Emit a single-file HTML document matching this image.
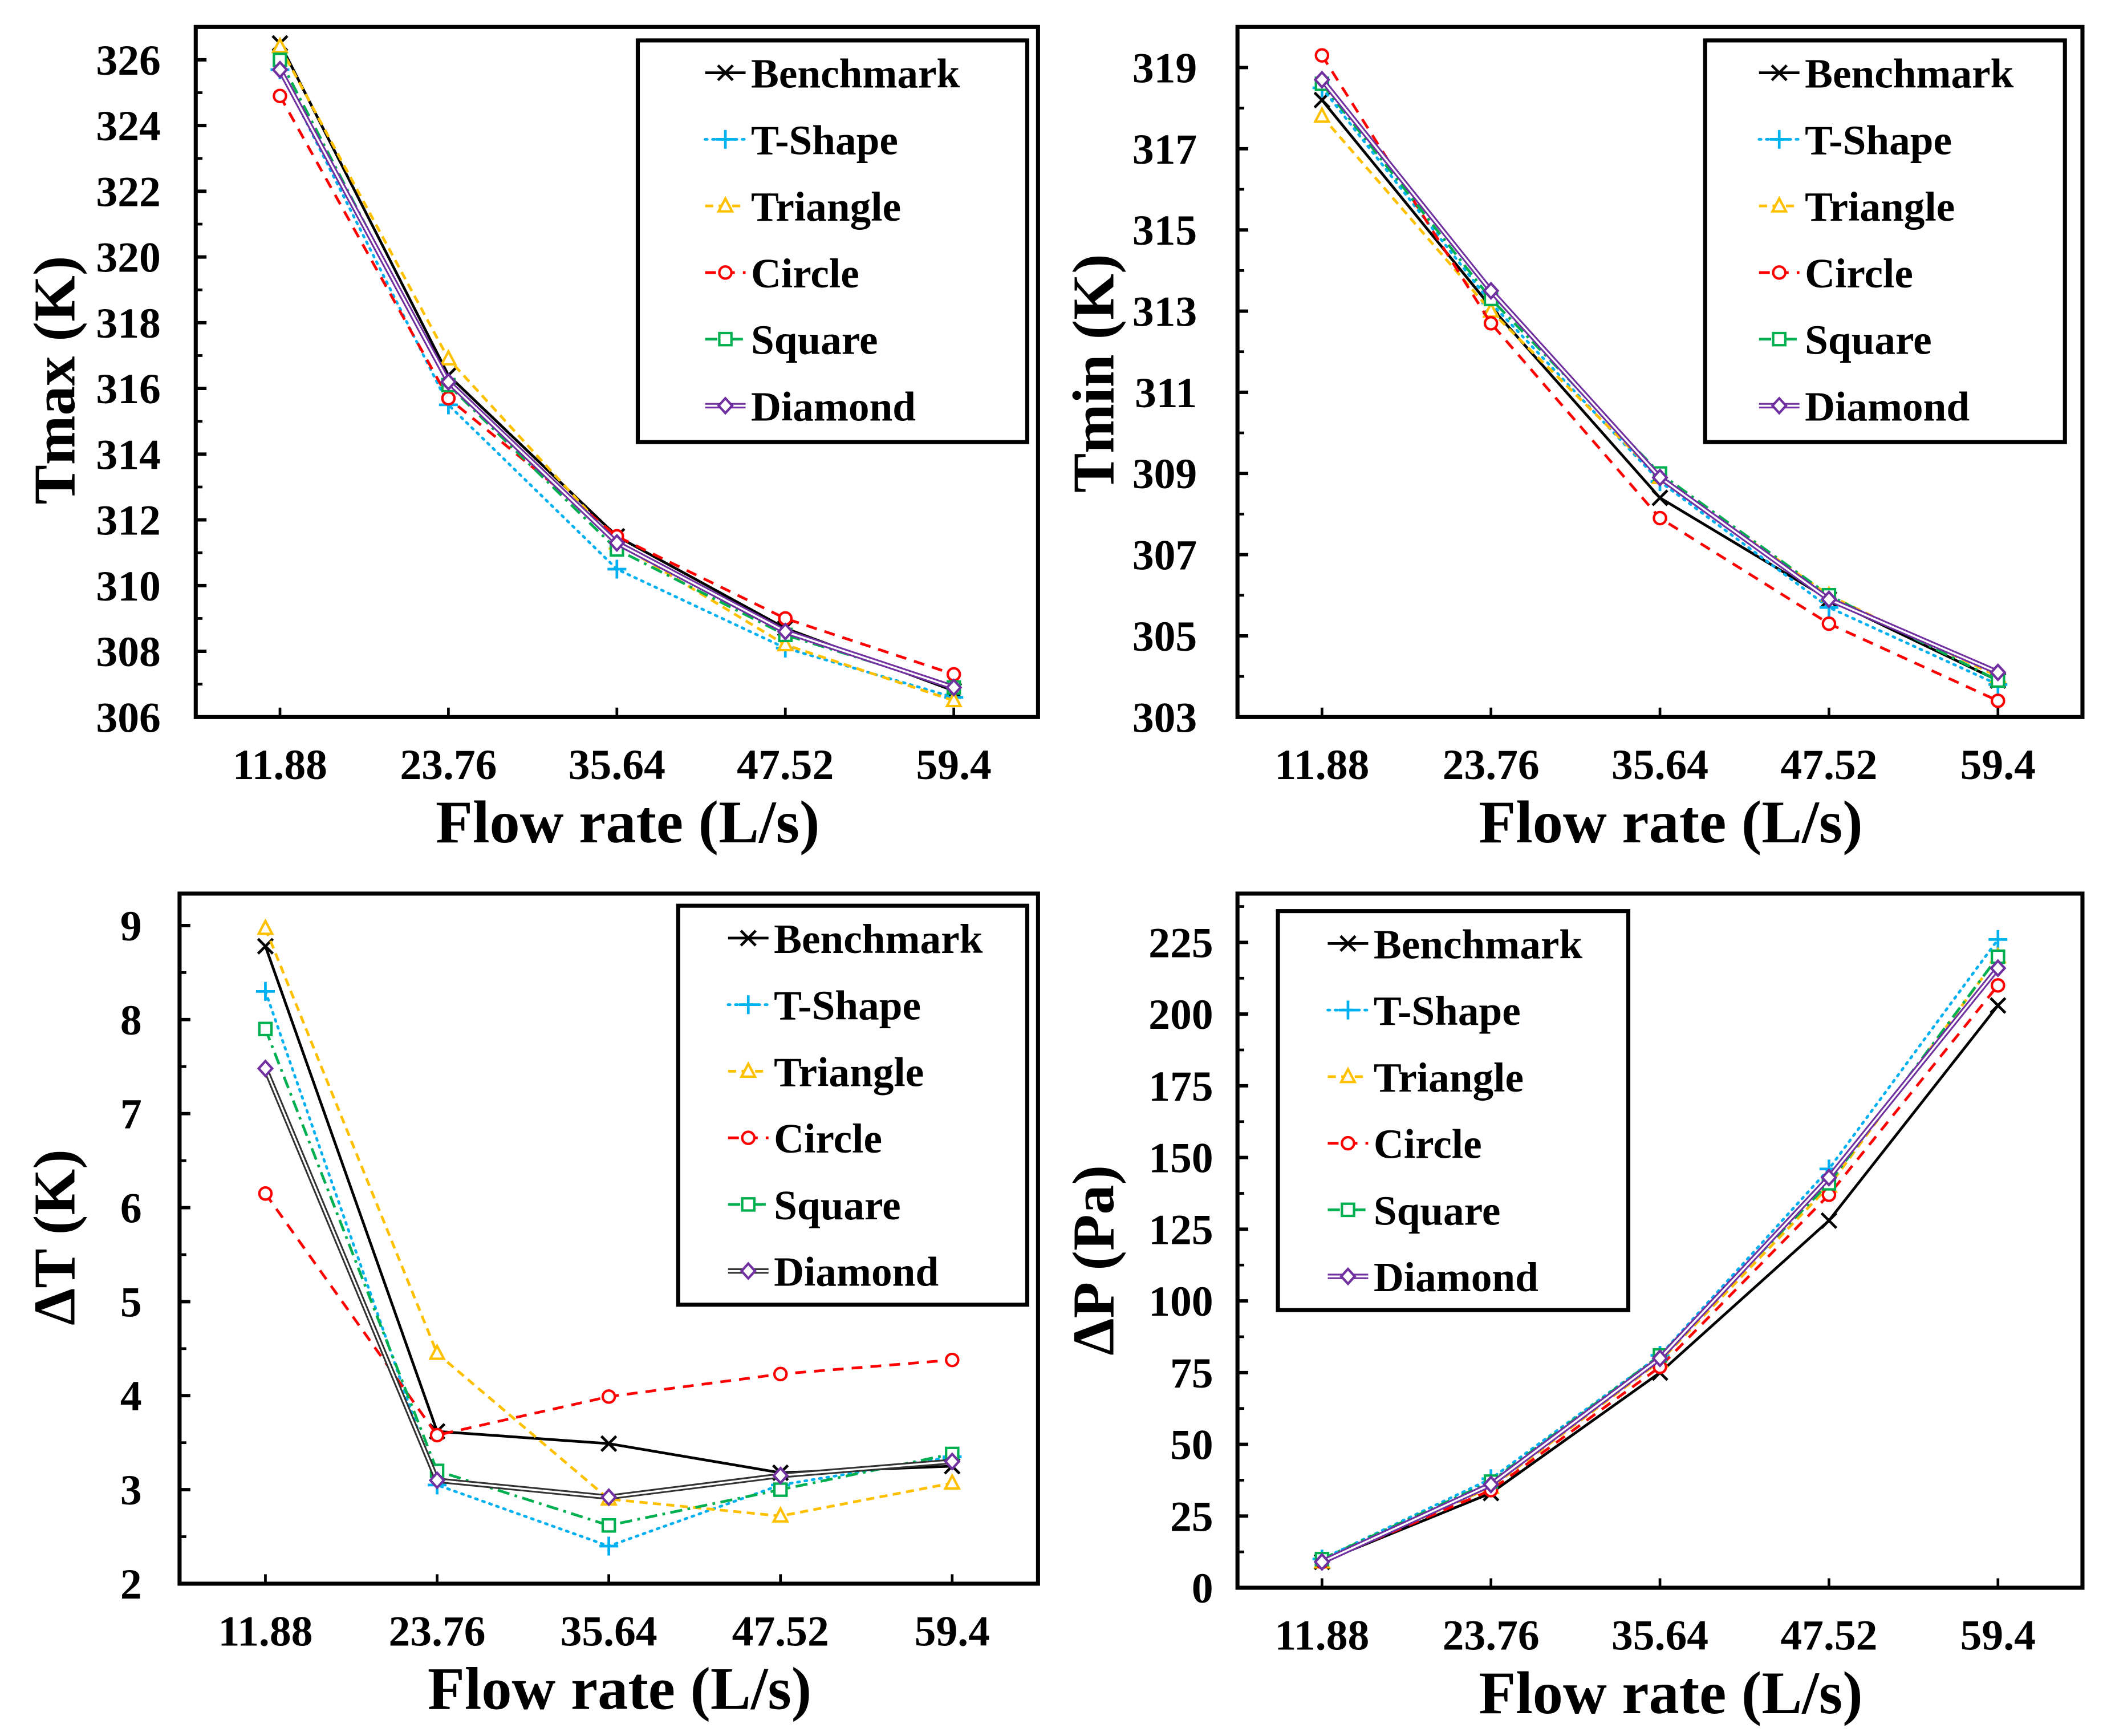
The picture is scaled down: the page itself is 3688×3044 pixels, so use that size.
<!DOCTYPE html>
<html><head><meta charset="utf-8"><style>
html,body{margin:0;padding:0;background:#fff;}
svg{display:block;}
svg text{font-family:"Liberation Serif","Times New Roman",serif;font-weight:bold;}
</style></head><body>
<svg id="fig" width="3688" height="3044" viewBox="0 0 1560 1288" xmlns="http://www.w3.org/2000/svg" font-family="Liberation Serif, serif" font-weight="bold"></svg>
<script>
const categories = ["11.88","23.76","35.64","47.52","59.4"];
const seriesNames = ["Benchmark","T-Shape","Triangle","Circle","Square","Diamond"];
// Tmax (K)
const tmaxBenchmark = [326.5,316.4,311.5,308.7,306.8];
const tmaxTShape    = [325.7,315.5,310.5,308.1,306.6];
const tmaxTriangle  = [326.4,316.9,311.3,308.2,306.5];
const tmaxCircle    = [324.9,315.7,311.5,309.0,307.3];
const tmaxSquare    = [326.0,316.1,311.1,308.5,306.9];
const tmaxDiamond   = [325.7,316.2,311.3,308.6,306.9];
// Tmin (K)
const tminBenchmark = [318.2,313.1,308.4,305.9,303.9];
const tminTShape    = [318.5,313.2,308.8,305.7,303.8];
const tminTriangle  = [317.8,313.0,308.9,306.0,304.0];
const tminCircle    = [319.3,312.7,307.9,305.3,303.4];
const tminSquare    = [318.6,313.3,309.0,306.0,303.9];
const tminDiamond   = [318.7,313.5,308.9,305.9,304.1];
// Delta T (K)
const dtBenchmark = [8.78,3.62,3.49,3.18,3.25];
const dtTShape    = [8.30,3.05,2.40,3.05,3.35];
const dtTriangle  = [8.97,4.45,2.90,2.72,3.07];
const dtCircle    = [6.15,3.58,3.99,4.23,4.38];
const dtSquare    = [7.90,3.20,2.62,3.00,3.38];
const dtDiamond   = [7.48,3.10,2.92,3.15,3.30];
// Delta P (Pa)
const dpBenchmark = [9,33,75,128,203];
const dpTShape    = [10,38,81,146,226];
const dpTriangle  = [9,35,79,140,220];
const dpCircle    = [9,34,77,137,210];
const dpSquare    = [10,37,81,141,220];
const dpDiamond   = [9,36,80,143,216];
// tick labels
const tmaxTicks = [306,308,310,312,314,316,318,320,322,324,326];
const tminTicks = [303,305,307,309,311,313,315,317,319];
const dtTicks = [2,3,4,5,6,7,8,9];
const dpTicks = [0,25,50,75,100,125,150,175,200,225];

const NS="http://www.w3.org/2000/svg";
const svg=document.getElementById('fig');
function mk(tag,attrs,parent){const e=document.createElementNS(NS,tag);for(const k in attrs)e.setAttribute(k,attrs[k]);(parent||svg).appendChild(e);return e;}
function txt(attrs,parent){attrs['font-family']='Liberation Serif, Times New Roman, serif';attrs['font-weight']='bold';return mk('text',attrs,parent);}

const styles=[
 {c:"#000",dash:"",marker:"x"},
 {c:"#00b0f0",dash:"1.5 4",marker:"plus",cap:"round"},
 {c:"#ffc000",dash:"6 4",marker:"tri"},
 {c:"#ff0000",dash:"8 6",marker:"circ"},
 {c:"#00b050",dash:"9 4 2 4",marker:"sq"},
 {c:"#7030a0",dash:"",marker:"dia",dbl:true}
];

function marker(g,type,x,y,col){
 const s=5.5;let e;
 if(type==="x"){e=mk('path',{d:`M${x-s} ${y-s}L${x+s} ${y+s}M${x-s} ${y+s}L${x+s} ${y-s}`,stroke:col,'stroke-width':2,fill:'none'},g);}
 else if(type==="plus"){e=mk('path',{d:`M${x-7} ${y}L${x+7} ${y}M${x} ${y-7}L${x} ${y+7}`,stroke:col,'stroke-width':2,fill:'none'},g);}
 else if(type==="tri"){e=mk('path',{d:`M${x} ${y-5.5}L${x+5} ${y+4}L${x-5} ${y+4}Z`,stroke:col,'stroke-width':1.8,fill:'#fff'},g);}
 else if(type==="circ"){e=mk('circle',{cx:x,cy:y,r:4.5,stroke:col,'stroke-width':1.8,fill:'#fff'},g);}
 else if(type==="sq"){e=mk('rect',{x:x-4.5,y:y-4.5,width:9,height:9,stroke:col,'stroke-width':1.8,fill:'#fff'},g);}
 else {e=mk('path',{d:`M${x} ${y-5.5}L${x+5} ${y}L${x} ${y+5.5}L${x-5} ${y}Z`,stroke:col,'stroke-width':1.8,fill:'#fff'},g);}
 
 
}

function drawLine(g,pts,st,lineCol){
 const d=pts.map((p,i)=>(i?'L':'M')+p[0].toFixed(2)+' '+p[1].toFixed(2)).join('');
 if(st.dbl){
  mk('path',{d:d,stroke:lineCol,'stroke-width':4,fill:'none'},g);
  mk('path',{d:d,stroke:'#fff','stroke-width':1.4,fill:'none'},g);
 } else {
  const a={d:d,stroke:lineCol,'stroke-width':2,fill:'none'};
  if(st.dash)a['stroke-dasharray']=st.dash;
  if(st.cap)a['stroke-linecap']=st.cap;
  mk('path',a,g);
 }
}

function panel(p){
 const g=mk('g',{});
 
 
 const xPos=i=>p.x0+(i+0.5)*(p.x1-p.x0)/categories.length;
 const yPos=v=>p.y1-(v-p.min)/(p.max-p.min)*(p.y1-p.y0);
 for(let v=p.min;v<=p.max+1e-9;v+=p.minor){
  const t=mk('line',{x1:p.x0,x2:p.x0+5,y1:yPos(v),y2:yPos(v),stroke:'#000','stroke-width':2},g);
  
  
 }
 p.ticks.forEach(v=>{
  const t=mk('line',{x1:p.x0,x2:p.x0+8,y1:yPos(v),y2:yPos(v),stroke:'#000','stroke-width':2.5},g);
  
  
  const l=txt({x:p.x0-p.gap,y:yPos(v)+11,'text-anchor':'end','font-size':32},g);
  l.textContent=v;
  
  
 });
 categories.forEach((c,i)=>{
  const t=mk('line',{x1:xPos(i),x2:xPos(i),y1:p.y1,y2:p.y1-7,stroke:'#000','stroke-width':2},g);
  
  
  const l=txt({x:xPos(i),y:p.y1+46,'text-anchor':'middle','font-size':32},g);
  l.textContent=c;
  
  
 });
 p.data.forEach((arr,si)=>{
  const st=styles[si];
  const sg=mk('g',{},g);
  
  
  const lc=(st.dbl&&p.dblBlack)?'#333':st.c;
  const pts=arr.map((v,i)=>[xPos(i),yPos(v)]);
  drawLine(sg,pts,st,lc);
  pts.forEach(q=>marker(sg,st.marker,q[0],q[1],st.c));
 });
 const fr=mk('rect',{x:p.x0,y:p.y0,width:p.x1-p.x0,height:p.y1-p.y0,fill:'none',stroke:'#000','stroke-width':3},g);
 
 
 const L=p.leg;
 const lg=mk('g',{},g);
 
 
 mk('rect',{x:L.x,y:L.y,width:L.w,height:L.h,fill:'#fff',stroke:'#000','stroke-width':3},lg);
 seriesNames.forEach((n,si)=>{
  const st=styles[si];
  const ey=L.y+24+si*49.4;
  const eg=mk('g',{},lg);
  
  
  const lc=(st.dbl&&p.dblBlack)?'#333':st.c;
  drawLine(eg,[[L.sx,ey],[L.sx+30,ey]],st,lc);
  marker(eg,st.marker,L.sx+15,ey,st.c);
  const t=txt({x:L.sx+34,y:ey+11,'font-size':31},eg);
  t.textContent=n;
 });
 const xt=txt({x:(p.x0+p.x1)/2+8,y:p.y1+93,'text-anchor':'middle','font-size':45},g);
 xt.textContent="Flow rate (L/s)";
 
 
 const yt=txt({x:0,y:0,'text-anchor':'middle','font-size':44,transform:`translate(${p.ytx},${p.yty}) rotate(-90)`},g);
 yt.textContent=p.ytitle;
 
 
}

panel({name:'tmax-panel',x0:145,x1:770,y0:20,y1:532,min:306,max:327,minor:1,ticks:tmaxTicks,gap:26,
 data:[tmaxBenchmark,tmaxTShape,tmaxTriangle,tmaxCircle,tmaxSquare,tmaxDiamond],
 leg:{x:473,y:30,w:289,h:298,sx:523},ytitle:'Tmax (K)',ytx:55,yty:282});
panel({name:'tmin-panel',x0:918,x1:1545,y0:20,y1:532,min:303,max:320,minor:1,ticks:tminTicks,gap:30,
 data:[tminBenchmark,tminTShape,tminTriangle,tminCircle,tminSquare,tminDiamond],
 leg:{x:1265,y:30,w:267,h:298,sx:1305},ytitle:'Tmin (K)',ytx:826,yty:277});
panel({name:'delta-t-panel',x0:133,x1:770,y0:663,y1:1175,min:2,max:9.34,minor:0.5,ticks:dtTicks,gap:28,dblBlack:true,
 data:[dtBenchmark,dtTShape,dtTriangle,dtCircle,dtSquare,dtDiamond],
 leg:{x:503,y:672,w:259,h:296,sx:540},ytitle:'ΔT (K)',ytx:55,yty:918});
panel({name:'delta-p-panel',x0:918,x1:1545,y0:663,y1:1178,min:0,max:242,minor:12.5,ticks:dpTicks,gap:18,
 data:[dpBenchmark,dpTShape,dpTriangle,dpCircle,dpSquare,dpDiamond],
 leg:{x:948,y:676,w:260,h:296,sx:985},ytitle:'ΔP (Pa)',ytx:826,yty:935});
</script>
</body></html>
